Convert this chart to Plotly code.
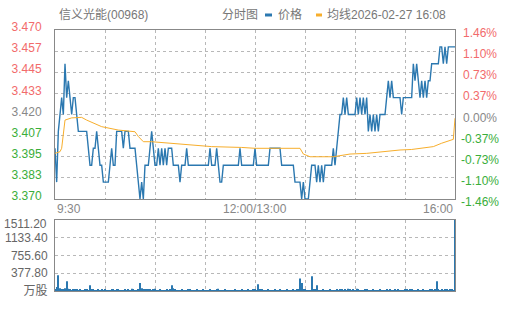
import plotly.graph_objects as go

# ---------------- data ----------------
PRE_CLOSE = 3.42
PRICE = [
    3.40, 3.38, 3.41, 3.42, 3.43, 3.42, 3.45, 3.43, 3.44, 3.43,
    3.42, 3.43, 3.43, 3.42, 3.41, 3.41, 3.41, 3.41, 3.41, 3.41,
    3.40, 3.39, 3.39, 3.40, 3.40, 3.41, 3.40, 3.39, 3.39, 3.38,
    3.38, 3.38, 3.38, 3.39, 3.40, 3.39, 3.39, 3.41, 3.41, 3.41,
    3.41, 3.40, 3.41, 3.41, 3.41, 3.40, 3.40, 3.40, 3.40, 3.39,
    3.38, 3.37, 3.38, 3.37, 3.39, 3.39, 3.39, 3.40, 3.41, 3.40,
    3.39, 3.39, 3.40, 3.39, 3.40, 3.39, 3.40, 3.39, 3.40, 3.40,
    3.40, 3.39, 3.39, 3.39, 3.39, 3.38, 3.39, 3.39, 3.39, 3.40,
    3.39, 3.39, 3.39, 3.39, 3.39, 3.39, 3.39, 3.39, 3.39, 3.39,
    3.39, 3.39, 3.39, 3.40, 3.39, 3.39, 3.39, 3.40, 3.39, 3.38,
    3.38, 3.39, 3.39, 3.39, 3.39, 3.39, 3.39, 3.39, 3.39, 3.39,
    3.39, 3.40, 3.39, 3.39, 3.39, 3.39, 3.39, 3.39, 3.39, 3.39,
    3.40, 3.39, 3.39, 3.39, 3.39, 3.39, 3.39, 3.39, 3.39, 3.40,
    3.40, 3.40, 3.40, 3.40, 3.40, 3.40, 3.39, 3.39, 3.39, 3.39,
    3.39, 3.39, 3.39, 3.39, 3.38, 3.38, 3.38, 3.38, 3.37, 3.38,
    3.37, 3.37, 3.37, 3.38, 3.39, 3.39, 3.39, 3.38, 3.39, 3.38,
    3.39, 3.38, 3.39, 3.39, 3.39, 3.39, 3.39, 3.40, 3.39, 3.40,
    3.41, 3.42, 3.42, 3.43, 3.42, 3.43, 3.42, 3.42, 3.42, 3.42,
    3.42, 3.43, 3.42, 3.43, 3.42, 3.43, 3.42, 3.43, 3.41, 3.42,
    3.41, 3.42, 3.41, 3.42, 3.41, 3.42, 3.42, 3.42, 3.42, 3.43,
    3.44, 3.43, 3.44, 3.43, 3.43, 3.43, 3.43, 3.43, 3.42, 3.43,
    3.43, 3.43, 3.43, 3.43, 3.43, 3.45, 3.44, 3.45, 3.44, 3.43,
    3.44, 3.43, 3.44, 3.43, 3.44, 3.44, 3.45, 3.45, 3.45, 3.45,
    3.45, 3.46, 3.46, 3.45, 3.46, 3.45, 3.46, 3.46, 3.46, 3.46,
    3.46,
]
VOLUME = [
    40, 85, 335, 60, 25, 30, 60, 207, 50, 25,
    20, 30, 25, 35, 20, 25, 15, 20, 30, 25,
    20, 121, 30, 25, 20, 15, 25, 20, 30, 20,
    25, 20, 15, 20, 25, 30, 20, 35, 25, 20,
    15, 20, 25, 20, 30, 20, 50, 25, 20, 15,
    30, 171, 60, 35, 25, 45, 45, 25, 20, 30,
    50, 20, 15, 25, 20, 15, 20, 25, 20, 30,
    121, 60, 25, 20, 15, 20, 25, 20, 15, 20,
    25, 35, 20, 15, 20, 35, 20, 15, 20, 25,
    20, 15, 20, 25, 20, 15, 20, 25, 50, 20,
    15, 20, 25, 20, 15, 20, 15, 20, 25, 20,
    15, 20, 25, 20, 15, 20, 25, 20, 15, 30,
    25, 20, 143, 40, 25, 20, 15, 20, 25, 20,
    15, 20, 25, 20, 15, 35, 20, 15, 20, 25,
    20, 15, 20, 25, 20, 30, 25, 264, 171, 40,
    25, 20, 15, 20, 314, 30, 25, 121, 20, 15,
    20, 25, 20, 15, 20, 25, 20, 15, 20, 25,
    20, 30, 25, 20, 25, 20, 50, 25, 20, 30,
    20, 50, 25, 20, 15, 20, 30, 35, 20, 15,
    20, 25, 20, 15, 20, 25, 20, 15, 20, 25,
    20, 25, 20, 15, 35, 20, 25, 20, 15, 20,
    25, 30, 20, 35, 25, 20, 15, 20, 25, 20,
    20, 25, 20, 15, 20, 25, 30, 20, 25, 207,
    30, 20, 25, 20, 25, 35, 20, 30, 25, 20,
    1511.2,
]
AVG_IDX = [0, 3, 4, 6, 10, 16, 19, 28, 38, 48, 50, 53, 58, 70, 80, 94, 112, 120,
           147, 149, 153, 167, 177, 187, 207, 214, 227, 232, 239, 240]
AVG_VAL = [3.397, 3.398, 3.400, 3.4167, 3.418, 3.4183, 3.4167, 3.4128, 3.4108, 3.4098,
           3.407, 3.4039, 3.4039, 3.4029, 3.402, 3.401, 3.4005, 3.400,
           3.400, 3.3966, 3.395, 3.395, 3.3966, 3.397, 3.399, 3.3993, 3.401,
           3.403, 3.4053, 3.4178]
PRICE_TICKS = [3.370, 3.3825, 3.395, 3.4075, 3.420, 3.4325, 3.445, 3.4575, 3.470]
PRICE_LABELS = ["3.370", "3.383", "3.395", "3.407", "3.420", "3.433", "3.445", "3.457", "3.470"]
PCT_LABELS = ["-1.46%", "-1.10%", "-0.73%", "-0.37%", "0.00%", "0.37%", "0.73%", "1.10%", "1.46%"]
VOL_TICKS = [0, 377.8, 755.6, 1133.4, 1511.2]
VOL_LABELS = ["万股", "377.80", "755.60", "1133.40", "1511.20"]
TIME_LABELS = ["9:30", "12:00/13:00", "16:00"]
N_MAX = 240
TITLE = "信义光能(00968)"
CHART_TYPE = "分时图"
LEG_PRICE = "价格"
LEG_AVG = "均线2026-02-27 16:08"

# ---------------- style ----------------
FONT = "Liberation Sans, Arial, Noto Sans CJK SC, sans-serif"
RED = "#f26b6b"
GREEN = "#3aae3a"
GRAY = "#888888"
BLUE = "#2b78b0"
ORANGE = "#f7ae2c"
GRID = "#b8b8b8"


def col(v):
    if abs(v - PRE_CLOSE) < 1e-9:
        return GRAY
    return RED if v > PRE_CLOSE else GREEN


xt = list(range(0, N_MAX + 1, 30))

fig = go.Figure()
fig.add_trace(go.Scatter(x=list(range(len(PRICE))), y=PRICE, mode="lines", line=dict(color=BLUE, width=1.4),
                         xaxis="x", yaxis="y", hoverinfo="skip"))
fig.add_trace(go.Scatter(x=AVG_IDX, y=AVG_VAL, mode="lines", line=dict(color=ORANGE, width=1),
                         xaxis="x", yaxis="y", hoverinfo="skip"))
fig.add_trace(go.Bar(x=list(range(len(VOLUME))), y=VOLUME, marker=dict(color=BLUE, line=dict(width=0)),
                     xaxis="x2", yaxis="y2", hoverinfo="skip"))

box = dict(showline=True, mirror=True, linecolor=GRAY, linewidth=1, zeroline=False,
           showgrid=True, gridcolor=GRID, gridwidth=1, griddash="dot")

fig.update_layout(
    template="none",
    width=505, height=310,
    margin=dict(l=55, r=50, t=30, b=19),
    paper_bgcolor="white", plot_bgcolor="white",
    showlegend=False, bargap=0.3,
    font=dict(family=FONT, size=12, color=GRAY),
    xaxis=dict(domain=[0, 1], range=[0, N_MAX], anchor="y", tickmode="array", tickvals=xt,
               showticklabels=False, ticks="", **box),
    yaxis=dict(domain=[0.3525, 1], range=[PRICE_TICKS[0], PRICE_TICKS[-1]], anchor="x",
               tickmode="array", tickvals=PRICE_TICKS,
               ticktext=[f"<span style='color:{col(v)}'>{t}</span>" for v, t in zip(PRICE_TICKS, PRICE_LABELS)],
               ticks="", ticklabelshift=-3, ticklabelstandoff=10, **box),
    xaxis2=dict(domain=[0, 1], range=[0, N_MAX], anchor="y2", tickmode="array", tickvals=xt,
                showticklabels=False, ticks="", **box),
    yaxis2=dict(domain=[0, 0.272], range=[0, VOL_TICKS[-1]], anchor="x2",
                tickmode="array", tickvals=VOL_TICKS, ticktext=VOL_LABELS[:-1] + [""],
                ticks="", ticklabelstandoff=4, tickfont=dict(color="#666666"), **box),
)

ann = []
for v, t in zip(PRICE_TICKS, PCT_LABELS):
    ann.append(dict(x=1.0625, xref="paper", y=v, yref="y", text=t, showarrow=False,
                    xanchor="center", yanchor="middle", yshift=-3,
                    font=dict(color=col(v), size=12, family=FONT)))
ann.append(dict(x=-0.015, xref="paper", y=VOL_TICKS[-1], yref="y2", text=VOL_LABELS[-1],
                showarrow=False, xanchor="right", yanchor="middle", yshift=-4,
                font=dict(color="#666666", size=12, family=FONT)))
for xv, t, anc in zip([0, N_MAX / 2, N_MAX], TIME_LABELS, ["left", "center", "right"]):
    ann.append(dict(x=xv, xref="x", y=0.3525, yref="paper", text=t, showarrow=False,
                    xanchor=anc, yanchor="top", yshift=-1,
                    font=dict(color=GRAY, size=12, family=FONT)))
hy = 1.0575
for xp, t in zip([0.005, 0.4125, 0.5525, 0.675], [TITLE, CHART_TYPE, LEG_PRICE, LEG_AVG]):
    ann.append(dict(x=xp, xref="paper", y=hy, yref="paper", text=t, showarrow=False,
                    xanchor="left", yanchor="middle", font=dict(color="#777777", size=12, family=FONT)))
fig.update_layout(annotations=ann)

fig.add_shape(type="line", xref="paper", yref="paper", x0=0.525, x1=0.5425, y0=hy, y1=hy,
              line=dict(color=BLUE, width=3))
fig.add_shape(type="line", xref="paper", yref="paper", x0=0.6525, x1=0.6675, y0=hy, y1=hy,
              line=dict(color=ORANGE, width=3))

fig.write_html("out.html")
